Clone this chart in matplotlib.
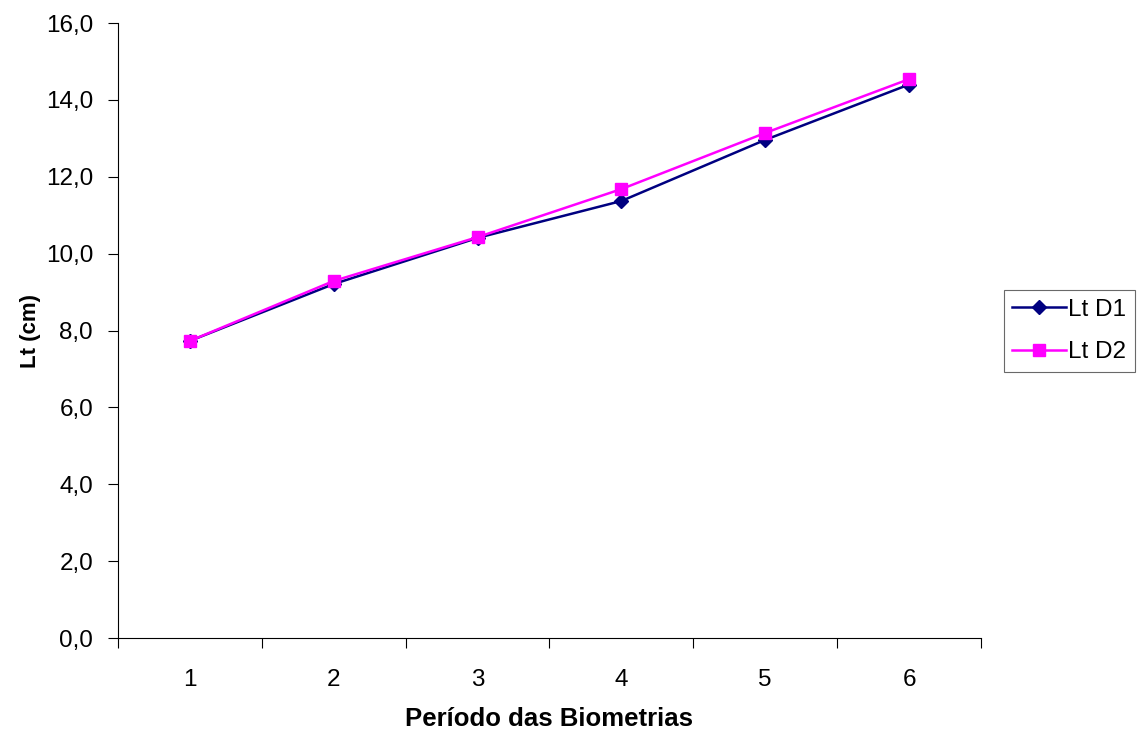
import numpy as np
import matplotlib.pyplot as plt
from matplotlib.ticker import FuncFormatter

plt.rcParams['font.family'] = ['Liberation Sans', 'DejaVu Sans']

periodos = [1, 2, 3, 4, 5, 6]
lt_d1 = [7.73, 9.21, 10.41, 11.37, 12.96, 14.40]
lt_d2 = [7.73, 9.29, 10.43, 11.68, 13.14, 14.54]

fig = plt.figure(figsize=(11.38, 7.31), dpi=100)
ax = fig.add_axes([0.1037, 0.1272, 0.862 - 0.1037, 0.9685 - 0.1272])

ax.plot(periodos, lt_d1, color='#000080', lw=1.8, marker='D', ms=7, label='Lt D1')
ax.plot(periodos, lt_d2, color='#FF00FF', lw=1.8, marker='s', ms=8.5, label='Lt D2')

ax.set_xlim(0.5, 6.5)
ax.set_ylim(0, 16)
ax.set_yticks(np.arange(0, 17, 2))
ax.yaxis.set_major_formatter(FuncFormatter(lambda v, p: f'{v:.1f}'.replace('.', ',')))

# ticks nas divisorias das categorias, rotulos no centro
ax.set_xticks(np.arange(0.5, 7, 1))
ax.set_xticklabels([])
ax.set_xticks(periodos, minor=True)
ax.set_xticklabels([str(p) for p in periodos], minor=True)
ax.tick_params(axis='x', which='minor', length=0, pad=22, labelsize=17.5)
ax.tick_params(axis='x', which='major', length=7, direction='out', width=0.8)
ax.tick_params(axis='y', length=7, direction='out', width=0.8, labelsize=17.5, pad=11)

for s in ['top', 'right']:
    ax.spines[s].set_visible(False)
for s in ['left', 'bottom']:
    ax.spines[s].set_linewidth(0.8)

ax.set_xlabel('Período das Biometrias', fontsize=18.5, fontweight='bold', labelpad=12)
ax.set_ylabel('Lt (cm)', fontsize=16, fontweight='bold', labelpad=3)

leg = fig.legend(loc='upper left', bbox_to_anchor=(0.8822, 0.6033), fontsize=17.5,
                 frameon=True, fancybox=False, edgecolor='#444444', handlelength=2.2,
                 borderpad=0.35, labelspacing=0.85, handletextpad=0.1, borderaxespad=0)
leg.get_frame().set_linewidth(0.8)

fig.savefig('out.png', dpi=100)
